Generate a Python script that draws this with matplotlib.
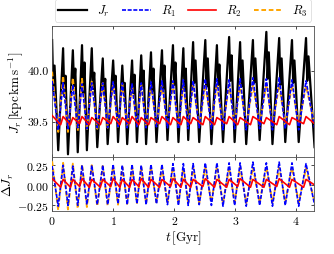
import numpy as np
import matplotlib
matplotlib.use('Agg')
import matplotlib.pyplot as plt
from matplotlib.ticker import FormatStrFormatter

plt.rcParams['font.family'] = 'serif'
plt.rcParams['font.serif'] = ['cmr10']
plt.rcParams['mathtext.fontset'] = 'cm'
plt.rcParams['axes.formatter.use_mathtext'] = True
plt.rcParams['font.size'] = 17

# times of the maxima and minima of the oscillation [Gyr]
t_peak = [0.00, 0.18, 0.34, 0.49, 0.65, 0.83, 1.00, 1.15, 1.31, 1.46, 1.62, 1.80,
          1.98, 2.15, 2.31, 2.51, 2.70, 2.90, 3.08, 3.29, 3.51, 3.72, 3.93, 4.16]
t_trough = [0.10, 0.26, 0.42, 0.57, 0.74, 0.91, 1.08, 1.23, 1.39, 1.54, 1.71, 1.89,
            2.07, 2.23, 2.41, 2.61, 2.80, 2.99, 3.18, 3.40, 3.61, 3.82, 4.04, 4.30]
# R2 falls slowly and jumps up at each peak
t_red_low = [0.14, 0.30, 0.45, 0.61, 0.79, 0.96, 1.11, 1.27, 1.42, 1.58, 1.76, 1.94,
             2.11, 2.27, 2.47, 2.66, 2.86, 3.04, 3.25, 3.47, 3.68, 3.89, 4.12, 4.30]
# J_r has a dip and a second spike just after every maximum
t_jr_dip = [0.02, 0.20, 0.36, 0.51, 0.67, 0.85, 1.02, 1.17, 1.33, 1.48, 1.64, 1.82,
            2.00, 2.17, 2.33, 2.53, 2.72, 2.92, 3.10, 3.31, 3.53, 3.74, 3.95, 4.18]
t_jr_spk = [0.04, 0.22, 0.38, 0.53, 0.69, 0.87, 1.04, 1.19, 1.35, 1.50, 1.66, 1.84,
            2.02, 2.19, 2.35, 2.55, 2.74, 2.94, 3.12, 3.33, 3.55, 3.76, 3.97, 4.20]

# J_r
jr_hi = [40.30, 40.22, 40.20, 40.25, 40.22, 40.12, 40.10, 40.05, 40.10, 40.15, 40.18, 40.20,
         40.25, 40.22, 40.28, 40.30, 40.25, 40.33, 40.28, 40.30, 40.38, 40.32, 40.30, 40.32]
jr_dip = [39.80, 39.75, 39.85, 39.78, 39.82, 39.76, 39.84, 39.80, 39.78, 39.85, 39.80, 39.82,
          39.86, 39.80, 39.88, 39.84, 39.86, 39.90, 39.84, 39.88, 39.92, 39.86, 39.88, 39.90]
jr_spk = [40.05, 39.95, 40.02, 40.08, 39.98, 39.92, 39.95, 39.88, 39.96, 40.00, 40.02, 40.05,
          40.08, 40.02, 40.10, 40.12, 40.06, 40.15, 40.10, 40.12, 40.18, 40.12, 40.10, 40.14]
jr_lo = [39.22, 39.18, 39.20, 39.22, 39.25, 39.28, 39.30, 39.28, 39.30, 39.28, 39.30, 39.32,
         39.30, 39.32, 39.30, 39.28, 39.30, 39.30, 39.28, 39.32, 39.28, 39.30, 39.30, 39.25]
# R1, R2, R3 (upper panel)
r1_hi = [39.90, 39.88, 39.86, 39.87, 39.88, 39.88, 39.89, 39.88, 39.87, 39.88, 39.89, 39.90,
         39.90, 39.91, 39.90, 39.92, 39.92, 39.91, 39.92, 39.93, 39.92, 39.93, 39.91, 39.90]
r1_lo = [39.42, 39.43, 39.44, 39.43, 39.44, 39.44, 39.45, 39.44, 39.45, 39.44, 39.45, 39.44,
         39.43, 39.43, 39.44, 39.43, 39.42, 39.43, 39.42, 39.43, 39.42, 39.43, 39.42, 39.44]
r2_hi = [39.56, 39.55, 39.54, 39.55, 39.54, 39.54, 39.55, 39.54, 39.55, 39.54, 39.54, 39.55,
         39.54, 39.55, 39.54, 39.55, 39.54, 39.55, 39.54, 39.55, 39.54, 39.55, 39.54, 39.55]
r2_lo = [39.47, 39.47, 39.48, 39.47, 39.47, 39.48, 39.47, 39.48, 39.47, 39.47, 39.48, 39.47,
         39.47, 39.48, 39.47, 39.47, 39.48, 39.47, 39.47, 39.48, 39.47, 39.47, 39.48, 39.48]
r3_hi = [39.99, 39.95, 39.93, 39.92, 39.90, 39.88, 39.87, 39.87, 39.86, 39.87, 39.86, 39.86,
         39.87, 39.86, 39.87, 39.86, 39.87, 39.86, 39.87, 39.86, 39.87, 39.86, 39.86, 39.85]
r3_lo = [39.40, 39.40, 39.41, 39.42, 39.43, 39.44, 39.45, 39.45, 39.46, 39.46, 39.46, 39.47,
         39.46, 39.47, 39.46, 39.47, 39.46, 39.47, 39.46, 39.47, 39.46, 39.47, 39.47, 39.48]
# Delta J_r (lower panel)
d1_hi = [0.24, 0.25, 0.24, 0.25, 0.25, 0.25, 0.26, 0.25, 0.26, 0.25, 0.26, 0.26,
         0.27, 0.27, 0.27, 0.28, 0.28, 0.28, 0.28, 0.29, 0.28, 0.29, 0.28, 0.27]
d1_lo = [-0.27, -0.26, -0.26, -0.25, -0.25, -0.25, -0.24, -0.25, -0.24, -0.25, -0.24, -0.25,
         -0.26, -0.26, -0.25, -0.26, -0.27, -0.26, -0.27, -0.26, -0.27, -0.26, -0.27, -0.25]
d2_hi = [0.08, 0.07, 0.07, 0.08, 0.07, 0.07, 0.08, 0.07, 0.07, 0.08, 0.07, 0.07,
         0.08, 0.07, 0.07, 0.08, 0.07, 0.07, 0.08, 0.07, 0.07, 0.08, 0.07, 0.07]
d2_lo = [-0.03, -0.03, -0.02, -0.03, -0.03, -0.02, -0.03, -0.03, -0.02, -0.03, -0.03, -0.02,
         -0.03, -0.03, -0.02, -0.03, -0.03, -0.02, -0.03, -0.03, -0.02, -0.03, -0.03, 0.00]
d3_hi = [0.30, 0.28, 0.27, 0.26, 0.25, 0.24, 0.23, 0.23, 0.22, 0.23, 0.22, 0.22,
         0.23, 0.22, 0.23, 0.22, 0.23, 0.22, 0.23, 0.22, 0.23, 0.22, 0.22, 0.21]
d3_lo = [-0.32, -0.31, -0.30, -0.28, -0.27, -0.26, -0.25, -0.24, -0.23, -0.23, -0.22, -0.22,
         -0.23, -0.22, -0.23, -0.22, -0.23, -0.22, -0.23, -0.22, -0.22, -0.21, -0.22, -0.21]


def zigzag(*pairs):
    # interleave (times, values) pairs into one polyline, cycle by cycle
    ts = np.column_stack([p[0] for p in pairs]).ravel()
    vs = np.column_stack([p[1] for p in pairs]).ravel()
    return ts, vs


fig = plt.figure(figsize=(6.68, 5.10), dpi=50)
ax1 = fig.add_axes([0.156, 0.379, 0.784, 0.516])
ax2 = fig.add_axes([0.156, 0.169, 0.784, 0.210], sharex=ax1)

blue_ls = (0, (2.4, 1.0))
orange_ls = (0, (2.4, 1.4))

ax1.plot(*zigzag((t_peak, jr_hi), (t_jr_dip, jr_dip), (t_jr_spk, jr_spk), (t_trough, jr_lo)),
         color='k', lw=3.2, label=r'$J_r$')
ax1.plot(*zigzag((t_peak, r1_hi), (t_trough, r1_lo)), color='b', lw=2.4, ls=blue_ls,
         label=r'$R_1$', zorder=4)
ax1.plot(*zigzag((t_peak, r2_hi), (t_red_low, r2_lo)), color='r', lw=2.4,
         label=r'$R_2$', zorder=5)
ax1.plot(*zigzag((t_peak, r3_hi), (t_trough, r3_lo)), color='orange', lw=2.8, ls=orange_ls,
         label=r'$R_3$', zorder=3)

ax2.plot(*zigzag((t_peak, d1_hi), (t_trough, d1_lo)), color='b', lw=2.4, ls=blue_ls, zorder=4)
ax2.plot(*zigzag((t_peak, d2_hi), (t_red_low, d2_lo)), color='r', lw=2.4, zorder=5)
ax2.plot(*zigzag((t_peak, d3_hi), (t_trough, d3_lo)), color='orange', lw=2.8, ls=orange_ls, zorder=3)

ax1.set_xlim(0, 4.29)
ax1.set_ylim(39.15, 40.44)
ax1.set_yticks([39.5, 40.0])
ax1.yaxis.set_major_formatter(FormatStrFormatter('%.1f'))
ax1.tick_params(labelbottom=False)
ax1.set_ylabel(r'$J_r\,[\mathrm{kpc\,km\,s^{-1}}]$', fontsize=19, labelpad=4)

ax2.set_ylim(-0.33, 0.35)
ax2.set_yticks([-0.25, 0.0, 0.25])
ax2.yaxis.set_major_formatter(FormatStrFormatter('$%.2f$'))
ax2.set_xticks([0, 1, 2, 3, 4])
ax2.set_xlabel(r'$t\,[\mathrm{Gyr}]$', fontsize=19, labelpad=3)
ax2.set_ylabel(r'$\Delta J_r$', fontsize=19, labelpad=2)

for ax in (ax1, ax2):
    ax.tick_params(direction='in', top=True, right=True, length=5, width=1, labelsize=17, pad=5)
    for sp in ax.spines.values():
        sp.set_linewidth(1.2)
        sp.set_color('0.3')

ax1.legend(loc='lower left', bbox_to_anchor=(0, 1.01, 1.0, 0.2), mode='expand', ncol=4,
           fontsize=18, handlelength=2.3, borderaxespad=0.2, borderpad=0.3)

fig.align_ylabels([ax1, ax2])
fig.savefig('out.png', dpi=50)
